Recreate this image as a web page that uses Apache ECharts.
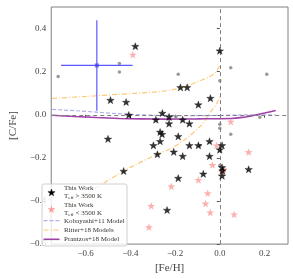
<!DOCTYPE html>
<html><head><meta charset="utf-8">
<script src="https://cdn.jsdelivr.net/npm/echarts@6/dist/echarts.min.js"></script>
<style>html,body{margin:0;padding:0;background:#fff}#c{width:293px;height:279px}</style>
</head><body><div id="c"></div>
<script>
// ---- data ----
const xTicks = [-0.6, -0.4, -0.2, 0.0, 0.2];
const yTicks = [-0.6, -0.4, -0.2, 0.0, 0.2, 0.4];
const xRange = [-0.754, 0.305];
const yRange = [-0.6, 0.5];

const hotX = [-0.378,-0.489,-0.419,-0.407,-0.286,-0.257,-0.227,-0.227,0.000,-0.176,-0.146,-0.042,-0.096,-0.166,-0.136,-0.267,-0.258,-0.186,-0.297,-0.267,-0.206,-0.279,-0.166,-0.136,-0.096,-0.046,-0.046,0.010,0.000,-0.074,-0.186,0.010,0.012,0.010,0.129,-0.236,-0.500,-0.430];
const hotY = [0.318,0.068,0.059,-0.001,-0.023,0.008,-0.010,-0.041,0.297,0.127,0.127,0.077,0.047,-0.023,-0.041,-0.080,-0.090,-0.100,-0.142,-0.123,-0.172,-0.183,-0.192,-0.142,-0.142,-0.123,-0.192,-0.142,-0.162,-0.274,-0.294,-0.244,-0.259,-0.283,-0.253,-0.442,-0.112,-0.261];

const coolX = [-0.389,0.049,-0.014,0.129,-0.033,0.018,0.010,-0.096,-0.217,-0.054,-0.064,-0.043,0.064,-0.307,-0.317];
const coolY = [0.279,-0.032,-0.142,-0.173,-0.233,-0.253,-0.264,-0.302,-0.332,-0.364,-0.412,-0.453,-0.462,-0.423,-0.521];

const grayX = [-0.723,-0.449,-0.449,-0.186,0.049,0.210,0.000,0.179,0.000,0.000,0.049,-0.196,-0.089,0.000];
const grayY = [0.177,0.238,0.199,0.188,0.218,0.188,0.158,-0.011,-0.044,-0.062,-0.090,-0.009,-0.142,-0.235];

const errCenter = [-0.55, 0.229];
const errXY = [0.16, 0.21];

const kobX = [-0.75,-0.6,-0.5,-0.4,-0.3,-0.2,-0.1,0.0,0.1,0.2,0.25];
const kobY = [0.025,0.016,0.008,0.002,-0.002,-0.004,-0.004,-0.003,-0.001,0.0,0.0];

const ritUpX = [-0.75,-0.6,-0.45,-0.3,-0.22,-0.15,-0.09,-0.05,-0.02,0.0];
const ritUpY = [0.076,0.085,0.095,0.105,0.114,0.133,0.157,0.175,0.195,0.23];
const ritLoX = [-0.75,-0.6,-0.43,-0.28,-0.22,-0.15,-0.08,-0.04,-0.015,0.0];
const ritLoY = [-0.46,-0.37,-0.261,-0.183,-0.157,-0.11,-0.045,0.015,0.05,0.085];

const praX = [-0.75,-0.65,-0.55,-0.45,-0.35,-0.25,-0.1,0.05,0.1,0.15,0.2,0.25];
const praY = [-0.002,-0.008,-0.013,-0.017,-0.019,-0.02,-0.019,-0.017,-0.012,-0.003,0.008,0.02];

const legendLabels = [
  '{a|This Work}\n{a|T}{s|eff}{a| > 3500 K}',
  '{a|This Work}\n{a|T}{s|eff}{a| < 3500 K}',
  '{a|Kobayashi+11 Model}',
  '{a|Ritter+18 Models}',
  '{a|Prantzos+18 Model}'
];

// ---- helpers ----
const zip = (a, b) => a.map((v, i) => [v, b[i]]);
// unit five-point star (outer radius 1, inner 0.4)
const STAR_PTS = [[0,-1],[0.235,-0.324],[0.951,-0.309],[0.380,0.124],[0.588,0.809],[0,0.4],[-0.588,0.809],[-0.380,0.124],[-0.951,-0.309],[-0.235,-0.324]];
const STAR = 'path://M' + STAR_PTS.map(p => p[0] + ',' + p[1]).join(' L') + ' Z';
const FONT = 'Liberation Serif';
const fmt = v => (v < -1e-9 ? '\u2212' : '') + Math.abs(v).toFixed(1);

const C_HOT = '#000';
const C_COOL = 'rgba(250,140,140,0.85)';
const C_KOB = '#b0b0f0';
const C_RIT = '#ffc878';
const C_PRA = '#a040a8';
const RIT_DASH = [5, 2, 1, 2];
const KOB_DASH = [4, 2];

const rich = {
  a: {fontFamily: FONT, fontSize: 7, lineHeight: 8, fill: '#333', color: '#333'},
  s: {fontFamily: FONT, fontSize: 5, lineHeight: 8, fill: '#333', color: '#333', padding: [3, 0, 0, 0]}
};

// legend layout (pixels)
const LG = {x: 42, y: 184, w: 85, h: 62, iconX0: 43.5, iconX1: 59.5, textX: 64, rows: [192.3, 209, 220.7, 230, 239.3]};
const starIcon = (cy, color, r) => ({
  type: 'polygon', z: 101,
  shape: {points: STAR_PTS.map(p => [(LG.iconX0 + LG.iconX1) / 2 + p[0] * r, cy + 0.5 + p[1] * r])},
  style: {fill: color, stroke: color === C_HOT ? '#000' : null, lineWidth: 0.4}
});
const lineIcon = (cy, color, dash, w) => ({
  type: 'line', z: 101,
  shape: {x1: LG.iconX0, y1: cy, x2: LG.iconX1, y2: cy},
  style: {stroke: color, lineWidth: w, lineDash: dash}
});
const textItem = (cy, txt) => ({
  type: 'text', z: 101,
  x: LG.textX, y: cy,
  style: {text: txt, rich: rich, font: '7px ' + FONT, fill: '#333', verticalAlign: 'middle', align: 'left'}
});

const graphic = [
  {type: 'rect', z: 100, shape: {x: LG.x, y: LG.y, width: LG.w, height: LG.h, r: 2},
    style: {fill: 'rgba(255,255,255,0.8)', stroke: '#d0d0d0', lineWidth: 1}},
  starIcon(LG.rows[0], C_HOT, 3.8),
  starIcon(LG.rows[1], C_COOL, 4.1),
  lineIcon(LG.rows[2], C_KOB, KOB_DASH, 1.2),
  lineIcon(LG.rows[3], C_RIT, RIT_DASH, 1.2),
  lineIcon(LG.rows[4], C_PRA, null, 1.6)
].concat(LG.rows.map((r, i) => textItem(r, legendLabels[i])));

const chart = echarts.init(document.getElementById('c'), null, {renderer: 'canvas'});
chart.setOption({
  animation: false,
  backgroundColor: '#fff',
  grid: {left: 39, right: 5, top: 7, bottom: 30, show: true, borderColor: '#808080', borderWidth: 1, backgroundColor: 'transparent'},
  xAxis: {
    type: 'value', min: xRange[0], max: xRange[1],
    name: '[Fe/H]', nameLocation: 'middle', nameGap: 16,
    nameTextStyle: {fontFamily: FONT, fontSize: 11, color: '#444'},
    axisLine: {show: false}, splitLine: {show: false},
    axisTick: {show: true, customValues: xTicks, length: 3, lineStyle: {color: '#555'}},
    axisLabel: {customValues: xTicks, formatter: fmt, fontFamily: FONT, fontSize: 9, color: '#444', margin: 5}
  },
  yAxis: {
    type: 'value', min: yRange[0], max: yRange[1],
    name: '[C/Fe]', nameLocation: 'middle', nameGap: 27,
    nameTextStyle: {fontFamily: FONT, fontSize: 11, color: '#444'},
    axisLine: {show: false}, splitLine: {show: false},
    axisTick: {show: true, customValues: yTicks, length: 3, lineStyle: {color: '#555'}},
    axisLabel: {customValues: yTicks, formatter: fmt, fontFamily: FONT, fontSize: 9, color: '#444', margin: 5}
  },
  graphic: graphic,
  series: [
    {
      type: 'line', name: 'zero', silent: true, symbol: 'none', data: [], z: 1,
      markLine: {
        silent: true, symbol: 'none', label: {show: false},
        lineStyle: {color: '#808080', type: [4, 3], width: 1},
        data: [{xAxis: 0}, {yAxis: 0}]
      }
    },
    {type: 'line', name: 'Kobayashi+11 Model', data: zip(kobX, kobY), symbol: 'none', z: 2,
      lineStyle: {color: C_KOB, width: 1.2, type: KOB_DASH}},
    {type: 'line', name: 'Ritter+18 Models', data: zip(ritUpX, ritUpY), symbol: 'none', z: 2, smooth: 0.3,
      lineStyle: {color: C_RIT, width: 1.2, type: RIT_DASH}},
    {type: 'line', name: 'Ritter+18 Models', data: zip(ritLoX, ritLoY), symbol: 'none', z: 2, smooth: 0.3,
      lineStyle: {color: C_RIT, width: 1.2, type: RIT_DASH}},
    {type: 'line', name: 'Prantzos+18 Model', data: zip(praX, praY), symbol: 'none', z: 3, smooth: 0.3,
      lineStyle: {color: C_PRA, width: 1.6}},
    {type: 'line', name: 'errx', data: [[errCenter[0] - errXY[0], errCenter[1]], [errCenter[0] + errXY[0], errCenter[1]]],
      symbol: 'none', z: 4, lineStyle: {color: 'rgba(60,60,255,0.85)', width: 1.2}},
    {type: 'line', name: 'erry', data: [[errCenter[0], errCenter[1] - errXY[1]], [errCenter[0], errCenter[1] + errXY[1]]],
      symbol: 'none', z: 4, lineStyle: {color: 'rgba(60,60,255,0.85)', width: 1.2}},
    {type: 'scatter', name: 'errc', data: [errCenter], symbol: 'rect', symbolSize: 4, z: 4,
      itemStyle: {color: 'rgba(60,60,255,0.85)'}},
    {type: 'scatter', name: 'gray', data: zip(grayX, grayY), symbol: 'circle', symbolSize: 3.5, z: 5,
      itemStyle: {color: '#808080'}},
    {type: 'scatter', name: 'cool', data: zip(coolX, coolY), symbol: STAR, symbolKeepAspect: true, symbolSize: 8, z: 6,
      itemStyle: {color: C_COOL}},
    {type: 'scatter', name: 'hot', data: zip(hotX, hotY), symbol: STAR, symbolKeepAspect: true, symbolSize: 7.5, z: 7,
      itemStyle: {color: C_HOT, borderColor: '#000', borderWidth: 0.4}}
  ]
});
</script></body></html>
